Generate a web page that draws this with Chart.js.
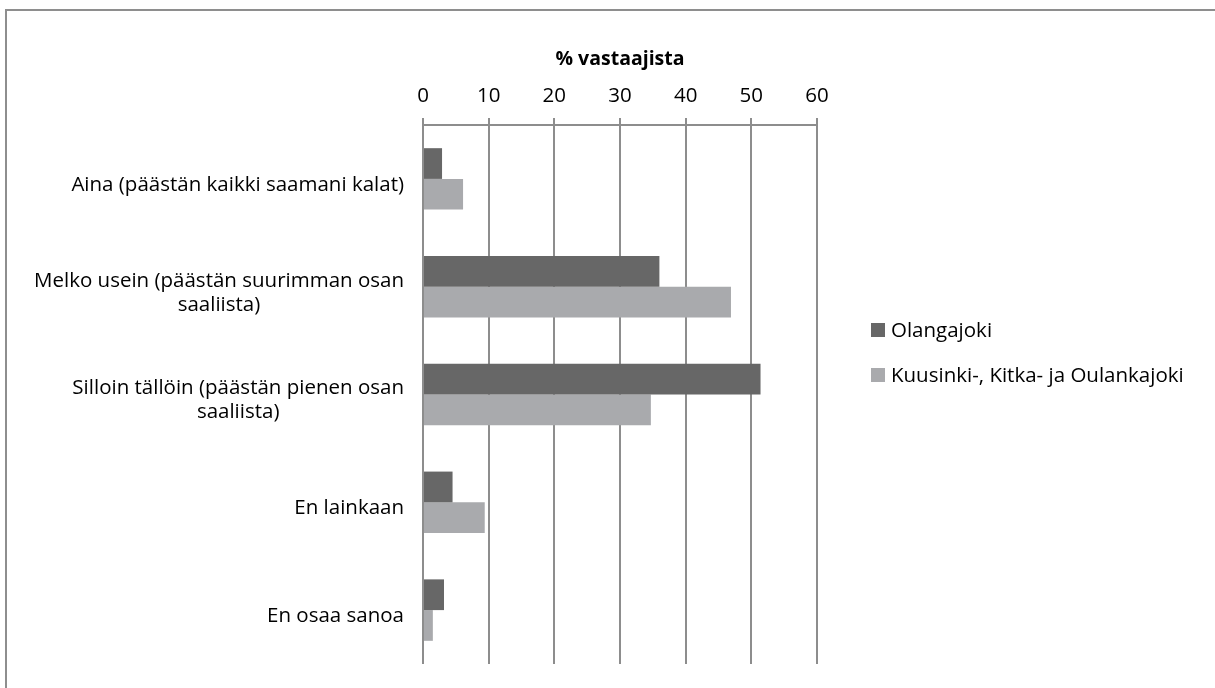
<!DOCTYPE html>
<html lang="fi">
<head>
<meta charset="utf-8">
<script src="https://cdn.jsdelivr.net/npm/chart.js@4.4.1/dist/chart.umd.min.js"></script>
<style>
  html, body { margin: 0; padding: 0; background: #fff; }
  #wrap { position: relative; width: 1215px; height: 688px; overflow: hidden; }
  #frame { position: absolute; left: 5px; top: 9px; width: 1300px; height: 800px; border: 2px solid #8e8e8e; box-sizing: border-box; }
  #chart { position: absolute; left: 0; top: 0; }
</style>
</head>
<body>
<div id="wrap">
  <div id="frame"></div>
  <canvas id="chart" width="1215" height="688"></canvas>
</div>
<script>
// categories (each one is a list of label lines)
var categories = [
  ['Aina (päästän kaikki saamani kalat)'],
  ['Melko usein (päästän suurimman osan', 'saaliista)'],
  ['Silloin tällöin (päästän pienen osan', 'saaliista)'],
  ['En lainkaan'],
  ['En osaa sanoa']
];
var seriesNames = ['Olangajoki', 'Kuusinki-, Kitka- ja Oulankajoki'];
var olangajoki = [2.9, 36.0, 51.4, 4.5, 3.2];
var kuusinki = [6.1, 46.9, 34.7, 9.4, 1.5];
var xTicks = [0, 10, 20, 30, 40, 50, 60];
var axisTitle = '% vastaajista';

var FONT = '"Open Sans", "Liberation Sans", sans-serif';
var gridColor = '#8d8d8d';

// category labels: lines centred on each other, block right aligned to the axis
var labelPlugin = {
  id: 'catLabels',
  afterDraw: function (chart) {
    var ctx = chart.ctx;
    var y = chart.scales.y;
    ctx.save();
    ctx.font = '20.5px ' + FONT;
    ctx.fillStyle = '#000';
    ctx.textAlign = 'center';
    ctx.textBaseline = 'middle';
    var lh = 24;
    var right = chart.chartArea.left - 19;
    categories.forEach(function (lines, i) {
      var w = 0;
      lines.forEach(function (l) { w = Math.max(w, ctx.measureText(l).width); });
      var cx = right - w / 2;
      var cy = y.getPixelForValue(i) + 6 - (lines.length - 1) * lh / 2;
      lines.forEach(function (l, j) { ctx.fillText(l, cx, cy + j * lh); });
    });

    // legend
    ctx.font = '20.5px ' + FONT;
    var ds = chart.data.datasets;
    var lx = chart.chartArea.right + 54;
    var ly = [330, 375];
    ds.forEach(function (d, i) {
      ctx.fillStyle = d.backgroundColor;
      ctx.fillRect(lx, ly[i] - 7, 14, 14);
      ctx.fillStyle = '#000';
      ctx.textAlign = 'left';
      ctx.fillText(d.label, lx + 20, ly[i] + 1);
    });
    ctx.restore();
  }
};

var chart = new Chart(document.getElementById('chart').getContext('2d'), {
  type: 'bar',
  data: {
    labels: categories.map(function (c) { return c.join(' '); }),
    datasets: [
      { label: seriesNames[0], data: olangajoki, backgroundColor: '#676767' },
      { label: seriesNames[1], data: kuusinki, backgroundColor: '#a9aaad' }
    ]
  },
  options: {
    indexAxis: 'y',
    responsive: false,
    animation: false,
    layout: { padding: { left: 0, top: 0, right: 398, bottom: 24 } },
    datasets: { bar: { barPercentage: 1, categoryPercentage: 0.57 } },
    plugins: {
      legend: { display: false },
      tooltip: { enabled: false }
    },
    scales: {
      x: {
        position: 'top',
        min: 0,
        max: 60,
        afterBuildTicks: function (s) { s.ticks = xTicks.map(function (v) { return { value: v }; }); },
        afterFit: function (s) { s.height = 125; },
        grid: { color: gridColor, lineWidth: 2, tickLength: 7, drawTicks: true },
        border: { color: gridColor, width: 2 },
        ticks: { color: '#000', font: { family: FONT, size: 20.5 }, padding: 10 },
        title: {
          display: true,
          text: axisTitle,
          color: '#000',
          font: { family: FONT, size: 19.5, weight: 'bold' },
          padding: { top: 48, bottom: 0 }
        }
      },
      y: {
        afterFit: function (s) { s.width = 423; },
        grid: { display: false },
        border: { display: false },
        ticks: { display: false }
      }
    }
  },
  plugins: [labelPlugin]
});
</script>
</body>
</html>
